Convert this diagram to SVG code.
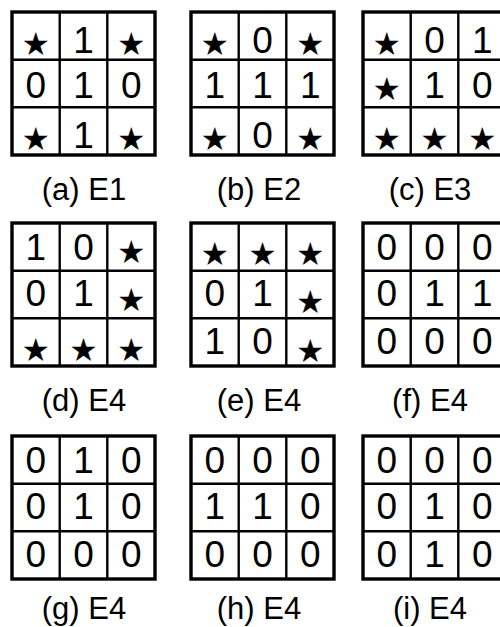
<svg xmlns="http://www.w3.org/2000/svg" width="500" height="627" viewBox="0 0 500 627">
<style>
.frame{fill:#fff;stroke:#000;stroke-width:3.4}
.ln{stroke:#000;stroke-width:2.4}
.d{font-family:"Liberation Sans",Arial,sans-serif;font-size:37px;text-anchor:middle;fill:#000}
.s{font-family:"DejaVu Sans",sans-serif;font-size:29px;text-anchor:middle;fill:#000;stroke:#000;stroke-width:0.6}
.lab{font-family:"Liberation Sans",Arial,sans-serif;font-size:31px;text-anchor:middle;fill:#000}
</style>
<defs>
<g id="grid">
<rect class="frame" x="0" y="0" width="143" height="143"/>
<line class="ln" x1="47.7" y1="0" x2="47.7" y2="143"/>
<line class="ln" x1="95.3" y1="0" x2="95.3" y2="143"/>
<line class="ln" x1="0" y1="47.7" x2="143" y2="47.7"/>
<line class="ln" x1="0" y1="95.3" x2="143" y2="95.3"/>
</g>
</defs>
<rect width="500" height="627" fill="#fff"/>
<g id="a" transform="translate(12,12)">
<use href="#grid"/>
<text class="s" x="23.8" y="42">★</text><text class="d" x="71.5" y="41">1</text><text class="s" x="119.2" y="42">★</text>
<text class="d" x="23.8" y="86">0</text><text class="d" x="71.5" y="86">1</text><text class="d" x="119.2" y="86">0</text>
<text class="s" x="23.8" y="137">★</text><text class="d" x="71.5" y="136">1</text><text class="s" x="119.2" y="137">★</text>
</g>
<g id="b" transform="translate(191,12)">
<use href="#grid"/>
<text class="s" x="23.8" y="42">★</text><text class="d" x="71.5" y="41">0</text><text class="s" x="119.2" y="42">★</text>
<text class="d" x="23.8" y="86">1</text><text class="d" x="71.5" y="86">1</text><text class="d" x="119.2" y="86">1</text>
<text class="s" x="23.8" y="137">★</text><text class="d" x="71.5" y="136">0</text><text class="s" x="119.2" y="137">★</text>
</g>
<g id="c" transform="translate(363,12)">
<use href="#grid"/>
<text class="s" x="23.8" y="42">★</text><text class="d" x="71.5" y="41">0</text><text class="d" x="119.2" y="41">1</text>
<text class="s" x="23.8" y="87">★</text><text class="d" x="71.5" y="86">1</text><text class="d" x="119.2" y="86">0</text>
<text class="s" x="23.8" y="137">★</text><text class="s" x="71.5" y="137">★</text><text class="s" x="119.2" y="137">★</text>
</g>
<g id="d" transform="translate(12,223)">
<use href="#grid"/>
<text class="d" x="23.8" y="37">1</text><text class="d" x="71.5" y="37">0</text><text class="s" x="119.2" y="39">★</text>
<text class="d" x="23.8" y="83">0</text><text class="d" x="71.5" y="83">1</text><text class="s" x="119.2" y="87">★</text>
<text class="s" x="23.8" y="137">★</text><text class="s" x="71.5" y="137">★</text><text class="s" x="119.2" y="137">★</text>
</g>
<g id="e" transform="translate(191,223)">
<use href="#grid"/>
<text class="s" x="23.8" y="41">★</text><text class="s" x="71.5" y="41">★</text><text class="s" x="119.2" y="41">★</text>
<text class="d" x="23.8" y="83">0</text><text class="d" x="71.5" y="83">1</text><text class="s" x="119.2" y="89">★</text>
<text class="d" x="23.8" y="131">1</text><text class="d" x="71.5" y="131">0</text><text class="s" x="119.2" y="138">★</text>
</g>
<g id="f" transform="translate(363,223)">
<use href="#grid"/>
<text class="d" x="23.8" y="37">0</text><text class="d" x="71.5" y="37">0</text><text class="d" x="119.2" y="37">0</text>
<text class="d" x="23.8" y="83">0</text><text class="d" x="71.5" y="83">1</text><text class="d" x="119.2" y="83">1</text>
<text class="d" x="23.8" y="131">0</text><text class="d" x="71.5" y="131">0</text><text class="d" x="119.2" y="131">0</text>
</g>
<g id="g" transform="translate(12,436)">
<use href="#grid"/>
<text class="d" x="23.8" y="37">0</text><text class="d" x="71.5" y="37">1</text><text class="d" x="119.2" y="37">0</text>
<text class="d" x="23.8" y="83">0</text><text class="d" x="71.5" y="83">1</text><text class="d" x="119.2" y="83">0</text>
<text class="d" x="23.8" y="131">0</text><text class="d" x="71.5" y="131">0</text><text class="d" x="119.2" y="131">0</text>
</g>
<g id="h" transform="translate(191,436)">
<use href="#grid"/>
<text class="d" x="23.8" y="37">0</text><text class="d" x="71.5" y="37">0</text><text class="d" x="119.2" y="37">0</text>
<text class="d" x="23.8" y="83">1</text><text class="d" x="71.5" y="83">1</text><text class="d" x="119.2" y="83">0</text>
<text class="d" x="23.8" y="131">0</text><text class="d" x="71.5" y="131">0</text><text class="d" x="119.2" y="131">0</text>
</g>
<g id="i" transform="translate(363,436)">
<use href="#grid"/>
<text class="d" x="23.8" y="37">0</text><text class="d" x="71.5" y="37">0</text><text class="d" x="119.2" y="37">0</text>
<text class="d" x="23.8" y="83">0</text><text class="d" x="71.5" y="83">1</text><text class="d" x="119.2" y="83">0</text>
<text class="d" x="23.8" y="131">0</text><text class="d" x="71.5" y="131">1</text><text class="d" x="119.2" y="131">0</text>
</g>
<g id="labels">
<text class="lab" x="84" y="200">(a) E1</text>
<text class="lab" x="259" y="200">(b) E2</text>
<text class="lab" x="430" y="200">(c) E3</text>
<text class="lab" x="84" y="411">(d) E4</text>
<text class="lab" x="259" y="411">(e) E4</text>
<text class="lab" x="430" y="411">(f) E4</text>
<text class="lab" x="84" y="619">(g) E4</text>
<text class="lab" x="259" y="619">(h) E4</text>
<text class="lab" x="430" y="619">(i) E4</text>
</g>
</svg>
